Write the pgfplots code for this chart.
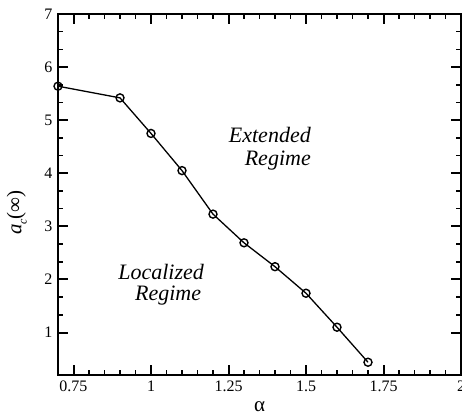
\documentclass[border=0pt]{standalone}
\usepackage{pgfplots}
\pgfplotsset{compat=1.18}
\usepackage{fontspec}
\setmainfont{Liberation Serif}
\begin{document}
\begin{tikzpicture}
\begin{axis}[
 scale only axis, width=403pt, height=361pt,
 xmin=0.7, xmax=2, ymin=0.2, ymax=7,
 clip=false, axis on top,
 xtick={0.75,1,1.25,1.5,1.75,2},
 xticklabels={0.75,1,1.25,1.5,1.75,2},
 minor x tick num=4,
 ytick={1,2,3,4,5,6,7},
 yticklabels={1,2,3,4,5,6,7},
 minor y tick num=2,
 tick align=inside,
 xtick pos=both, ytick pos=both,
 major tick length=10pt, minor tick length=5pt,
 axis line style={line width=2.4pt},
 major tick style={black, line width=2pt},
 minor tick style={black, line width=1.6pt},
 tick label style={font=\fontsize{16}{18}\selectfont},
 xticklabel style={yshift=-2pt},
 yticklabel style={xshift=-2pt},
 /pgf/number format/assume math mode=true,
 xlabel={α},
 xlabel style={font=\fontsize{21}{22}\selectfont, at={(axis description cs:0.5,-0.089)}, anchor=center},
 ylabel={\textit{a}\raisebox{-0.25em}{\fontsize{12}{12}\selectfont\textit{c}}(∞)},
 ylabel style={font=\fontsize{21}{22}\selectfont, at={(axis description cs:-0.102,0.45)}, anchor=center},
]
\addplot[black, line width=1.3pt, mark=o, mark size=4pt, mark options={line width=1.4pt}] coordinates {
 (0.7,5.64) (0.9,5.42) (1.0,4.75) (1.1,4.05) (1.2,3.23)
 (1.3,2.69) (1.4,2.24) (1.5,1.74) (1.6,1.10) (1.7,0.44)
};
\draw[line width=2.4pt] (rel axis cs:0,0) rectangle (rel axis cs:1,1);
\node[font=\fontsize{22}{22}\selectfont\itshape, anchor=base east, inner sep=0pt] at (axis cs:1.516,4.575) {Extended};
\node[font=\fontsize{22}{22}\selectfont\itshape, anchor=base east, inner sep=0pt] at (axis cs:1.516,4.155) {Regime};
\node[font=\fontsize{22}{22}\selectfont\itshape, anchor=base west, inner sep=0pt] at (axis cs:0.894,2.008) {Localized};
\node[font=\fontsize{22}{22}\selectfont\itshape, anchor=base west, inner sep=0pt] at (axis cs:0.948,1.612) {Regime};
\end{axis}
\pgfresetboundingbox
\path ([xshift=-58pt,yshift=-45pt]current axis.south west) rectangle ([xshift=1pt,yshift=14pt]current axis.north east);
\end{tikzpicture}
\end{document}
